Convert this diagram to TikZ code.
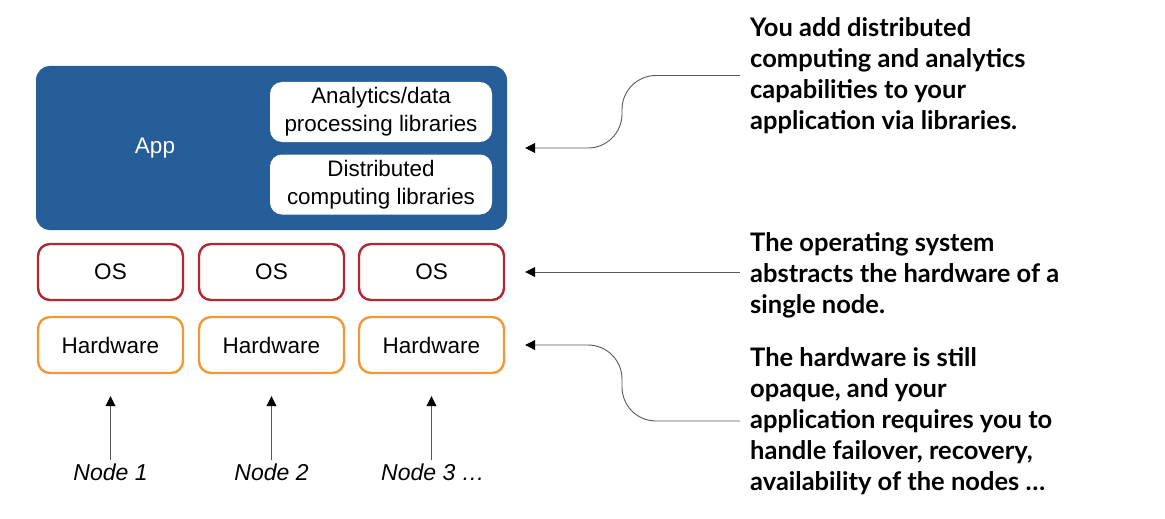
\documentclass[tikz,border=0pt]{standalone}
\usepackage{fontspec}
\setmainfont{Liberation Sans}
\newfontfamily\notefont{Lato}
\usetikzlibrary{arrows.meta}

\definecolor{appblue}{RGB}{38,94,153}
\definecolor{osred}{RGB}{178,40,52}
\definecolor{hworange}{RGB}{242,153,55}

\tikzset{
  layer/.style = {draw, rounded corners=12pt, line width=2.4pt, minimum width=145pt, minimum height=56pt, font=\fontsize{22.5}{26}\selectfont},
  osbox/.style = {layer, draw=osred},
  hwbox/.style = {layer, draw=hworange},
  libbox/.style = {fill=white, rounded corners=12pt, minimum width=222pt, minimum height=60pt, align=center, inner sep=2pt, font=\fontsize{22.4}{28}\selectfont},
  note/.style = {anchor=west, align=left, inner sep=0pt, font=\notefont\bfseries\fontsize{25.5}{31}\selectfont},
  nodelbl/.style = {font=\itshape\fontsize{23}{26}\selectfont},
  callout/.style = {draw=black!65, line width=0.9pt, rounded corners=34pt, -{Triangle[length=10pt,width=10pt,black]}},
  uparrow/.style = {draw=black!65, line width=0.9pt, -{Triangle[length=10pt,width=10pt,black]}},
}

\begin{document}
\begin{tikzpicture}[x=1pt, y=-1pt]
	\useasboundingbox (0,0) rectangle (1165,519);
	% application with its libraries
	\node[fill=appblue, rounded corners=14pt, minimum width=471pt, minimum height=164pt] (app) at (271.5,148) {};
	\node[text=white, font=\fontsize{22.5}{26}\selectfont] (applbl) at (155,148) {App};
	\node[libbox] (analytics) at (381,112) {Analytics/data\\processing libraries};
	\node[libbox] (distrib) at (381,184.5) {Distributed\\computing libraries};
	% one OS and one piece of hardware per node
	\node[osbox] (os1) at (110.5,272) {OS};
	\node[osbox] (os2) at (271.5,272) {OS};
	\node[osbox] (os3) at (431.5,272) {OS};
	\node[hwbox] (hw1) at (110.5,345) {Hardware};
	\node[hwbox] (hw2) at (271.5,345) {Hardware};
	\node[hwbox] (hw3) at (431.5,345) {Hardware};
	\node[nodelbl] (n1) at (110.5,472) {Node 1};
	\node[nodelbl] (n2) at (271.5,472) {Node 2};
	\node[nodelbl] (n3) at (433,472) {Node 3 …};
	\draw[uparrow] (hw1.south |- n1.north) -- ([yshift=-22pt]hw1.south);
	\draw[uparrow] (hw2.south |- n2.north) -- ([yshift=-22pt]hw2.south);
	\draw[uparrow] (hw3.south |- n3.north) -- ([yshift=-22pt]hw3.south);
	% notes on the right
	\node[note] (note1) at (750,75.5) {You add distributed\\computing and analytics\\capabilities to your\\application via libraries.};
	\node[note] (note2) at (750,275) {The operating system\\abstracts the hardware of a\\single node.};
	\node[note] (note3) at (750,421) {The hardware is still\\opaque, and your\\application requires you to\\handle failover, recovery,\\availability of the nodes …};
	\draw[callout] ([xshift=-10pt]note1.west) -- ++(-118,0) |- ([xshift=18pt]app.east);
	\draw[callout] (note2.west |- os3.east) ++(-10,0) -- ([xshift=20pt]os3.east);
	\draw[callout] ([xshift=-10pt]note3.west) -- ++(-118,0) |- ([xshift=20pt]hw3.east);
\end{tikzpicture}
\end{document}
